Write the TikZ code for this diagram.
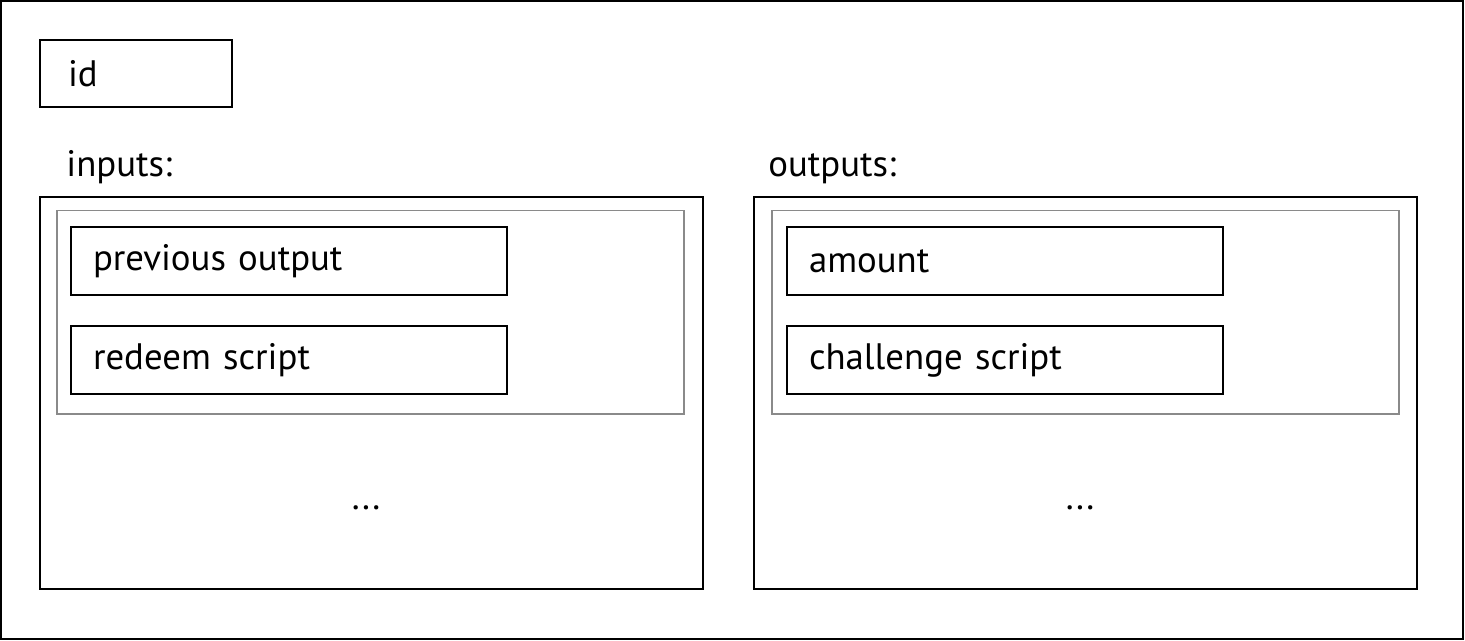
\documentclass[tikz,border=0pt]{standalone}
\usepackage{fontspec}
\setmainfont{PT Sans}
\usepackage{tikz}
\definecolor{frame}{HTML}{000000}
\definecolor{muted}{HTML}{8A8A8A}

\begin{document}
\begin{tikzpicture}[x=0.5pt,y=-0.5pt,font=\fontsize{18.4}{22}\selectfont,
  field/.style={draw=frame,line width=1pt,anchor=north west,inner sep=0pt,
    minimum height=34pt,text width=196pt,align=left,inner xsep=11pt},
  group/.style={draw=muted,line width=0.75pt,anchor=north west,inner sep=0pt,
    minimum width=313.5pt,minimum height=101.5pt},
  listbox/.style={draw=frame,line width=1pt,anchor=north west,inner sep=0pt,
    minimum width=331.5pt,minimum height=196pt},
  label/.style={anchor=base west,inner sep=0pt}]
\useasboundingbox (0,0) rectangle (1465,641);
% Outer frame
\draw[frame,line width=1pt] (1,1) rectangle (1463,639);

% Id field
\node[field,text width=68pt,minimum height=33.5pt,inner xsep=14pt] (id) at (39,39) {id};

% Inputs
\node[label] (inlabel) at (66,177) {inputs:};
\node[listbox] (inbox) at (39,196) {};
\node[group] (ingroup) at (56,210) {};
\node[field] (prevout) at (70,226) {previous output};
\node[field] (redeem) at (70,325) {redeem script};
\node (indots) at (366,508) {...};

% Outputs
\node[label] (outlabel) at (768,177) {outputs:};
\node[listbox] (outbox) at (753,196) {};
\node[group] (outgroup) at (771,210) {};
\node[field] (amount) at (786,226) {amount};
\node[field] (challenge) at (786,325) {challenge script};
\node (outdots) at (1080,508) {...};
\end{tikzpicture}
\end{document}
